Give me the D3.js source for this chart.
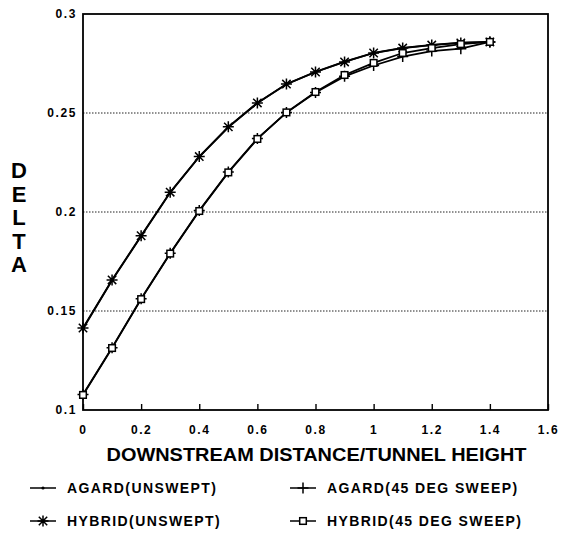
<!DOCTYPE html>
<html><head><meta charset="utf-8">
<script src="https://cdn.jsdelivr.net/npm/d3@7"></script>
<style>body{margin:0;background:#fff}svg{display:block}</style>
</head><body>
<script>
const xValues = [0,0.1,0.2,0.3,0.4,0.5,0.6,0.7,0.8,0.9,1.0,1.1,1.2,1.3,1.4];
const agardUnswept = [0.1410,0.1655,0.1878,0.2098,0.2279,0.2428,0.2550,0.2645,0.2708,0.2759,0.2804,0.2829,0.2844,0.2855,0.2859];
const hybridUnswept = [0.1414,0.1657,0.1880,0.2100,0.2280,0.2430,0.2551,0.2646,0.2707,0.2758,0.2803,0.2828,0.2843,0.2854,0.2859];
const agardSwept = [0.1078,0.1315,0.1562,0.1792,0.2007,0.2202,0.2371,0.2502,0.2604,0.2685,0.2740,0.2785,0.2813,0.2825,0.2859];
const hybridSwept = [0.1076,0.1313,0.1560,0.1790,0.2005,0.2200,0.2369,0.2503,0.2606,0.2692,0.2753,0.2803,0.2828,0.2848,0.2859];
const xTicks = [0,0.2,0.4,0.6,0.8,1,1.2,1.4,1.6];
const xTickLabels = ["0","0.2","0.4","0.6","0.8","1","1.2","1.4","1.6"];
const yTicks = [0.1,0.15,0.2,0.25,0.3];
const yTickLabels = ["0.1","0.15","0.2","0.25","0.3"];
const gridValues = [0.15,0.2,0.25];
const seriesNames = ["AGARD(UNSWEPT)","HYBRID(UNSWEPT)","AGARD(45 DEG SWEEP)","HYBRID(45 DEG SWEEP)"];
const xTitle = "DOWNSTREAM DISTANCE/TUNNEL HEIGHT";
const yTitle = "DELTA";

const W = 566, H = 535;
const m = {left:83, right:548, top:14, bottom:410};
const FONT = "Liberation Sans, Arial, sans-serif";
const svg = d3.select("body").append("svg").attr("width",W).attr("height",H);
const x = d3.scaleLinear().domain([0,1.6]).range([m.left,m.right]);
const y = d3.scaleLinear().domain([0.1,0.3]).range([m.bottom,m.top]);

// grid
svg.append("g").selectAll("line").data(gridValues).join("line")
  .attr("x1",m.left).attr("x2",m.right).attr("y1",d=>y(d)).attr("y2",d=>y(d))
  .attr("stroke","#222").attr("stroke-width",1).attr("stroke-dasharray","1.5,1.5");

// frame
svg.append("rect").attr("x",m.left).attr("y",m.top).attr("width",m.right-m.left).attr("height",m.bottom-m.top)
  .attr("fill","none").attr("stroke","#000").attr("stroke-width",1.8);

// x axis
const xAxis = d3.axisBottom(x).tickValues(xTicks).tickSize(-6).tickPadding(15)
  .tickFormat((d,i)=>xTickLabels[i]);
const gx = svg.append("g").attr("transform",`translate(0,${m.bottom})`).call(xAxis);
gx.select(".domain").remove();
gx.selectAll(".tick line").attr("stroke","#000").attr("stroke-width",1.4);
gx.selectAll("text").attr("font-family",FONT).attr("font-weight","bold")
  .attr("font-size",12).attr("letter-spacing",1.6).attr("fill","#000");

const yAxis = d3.axisLeft(y).tickValues(yTicks).tickSize(0).tickPadding(6)
  .tickFormat((d,i)=>yTickLabels[i]);
const gy = svg.append("g").attr("transform",`translate(${m.left},0)`).call(yAxis);
gy.select(".domain").remove();
gy.selectAll("text").attr("font-family",FONT).attr("font-weight","bold")
  .attr("font-size",12).attr("letter-spacing",1.6).attr("fill","#000");

// titles
svg.append("text").attr("x",(m.left+m.right)/2+1).attr("y",461).attr("text-anchor","middle")
  .attr("font-family",FONT).attr("font-weight","bold").attr("font-size",19).attr("fill","#000")
  .attr("textLength",420).attr("lengthAdjust","spacingAndGlyphs")
  .text(xTitle);
svg.append("text").attr("x",19).attr("y",158)
  .attr("font-family",FONT).attr("font-weight","bold").attr("font-size",22).attr("fill","#000")
  .style("writing-mode","vertical-rl").style("text-orientation","upright")
  .attr("letter-spacing",-1.5)
  .text(yTitle);

// markers
function drawMarker(g, type, cx, cy){
  if(type==="dot"){
    g.append("circle").attr("cx",cx).attr("cy",cy).attr("r",1.6).attr("fill","#000");
  } else if(type==="star"){
    const r=5.5, rd=4.2;
    g.append("path").attr("d",`M${cx-r},${cy}L${cx+r},${cy}M${cx},${cy-r}L${cx},${cy+r}M${cx-rd},${cy-rd}L${cx+rd},${cy+rd}M${cx-rd},${cy+rd}L${cx+rd},${cy-rd}`)
      .attr("stroke","#000").attr("stroke-width",1.5).attr("fill","none");
  } else if(type==="plus"){
    const r=5.5;
    g.append("path").attr("d",`M${cx-r},${cy}L${cx+r},${cy}M${cx},${cy-r}L${cx},${cy+r}`)
      .attr("stroke","#000").attr("stroke-width",1.5).attr("fill","none");
  } else if(type==="square"){
    g.append("rect").attr("x",cx-3.3).attr("y",cy-3.3).attr("width",6.6).attr("height",6.6)
      .attr("stroke","#000").attr("stroke-width",1.5).attr("fill","#fff");
  }
}

const series = [
  {name:seriesNames[0], vals:agardUnswept, marker:"dot"},
  {name:seriesNames[1], vals:hybridUnswept, marker:"star"},
  {name:seriesNames[2], vals:agardSwept, marker:"plus"},
  {name:seriesNames[3], vals:hybridSwept, marker:"square"}
];
const line = d3.line().x(d=>x(d[0])).y(d=>y(d[1]));
series.forEach(s=>{
  const pts = xValues.map((v,i)=>[v,s.vals[i]]);
  svg.append("path").attr("d",line(pts)).attr("fill","none").attr("stroke","#000").attr("stroke-width",1.8);
});
series.forEach(s=>{
  const g = svg.append("g");
  xValues.forEach((v,i)=>drawMarker(g,s.marker,x(v),y(s.vals[i])));
});

// legend
const legPos = [[30,488],[30,521],[290,488],[290,521]];
series.forEach((s,i)=>{
  const [lx,ly]=legPos[i];
  const g = svg.append("g");
  g.append("line").attr("x1",lx).attr("x2",lx+26).attr("y1",ly).attr("y2",ly).attr("stroke","#000").attr("stroke-width",1.5);
  drawMarker(g,s.marker,lx+13,ly);
  g.append("text").attr("x",lx+37).attr("y",ly+5).attr("font-family",FONT)
    .attr("font-weight","bold").attr("font-size",14).attr("letter-spacing",1.4).attr("fill","#000").text(s.name);
});
</script>
</body></html>
